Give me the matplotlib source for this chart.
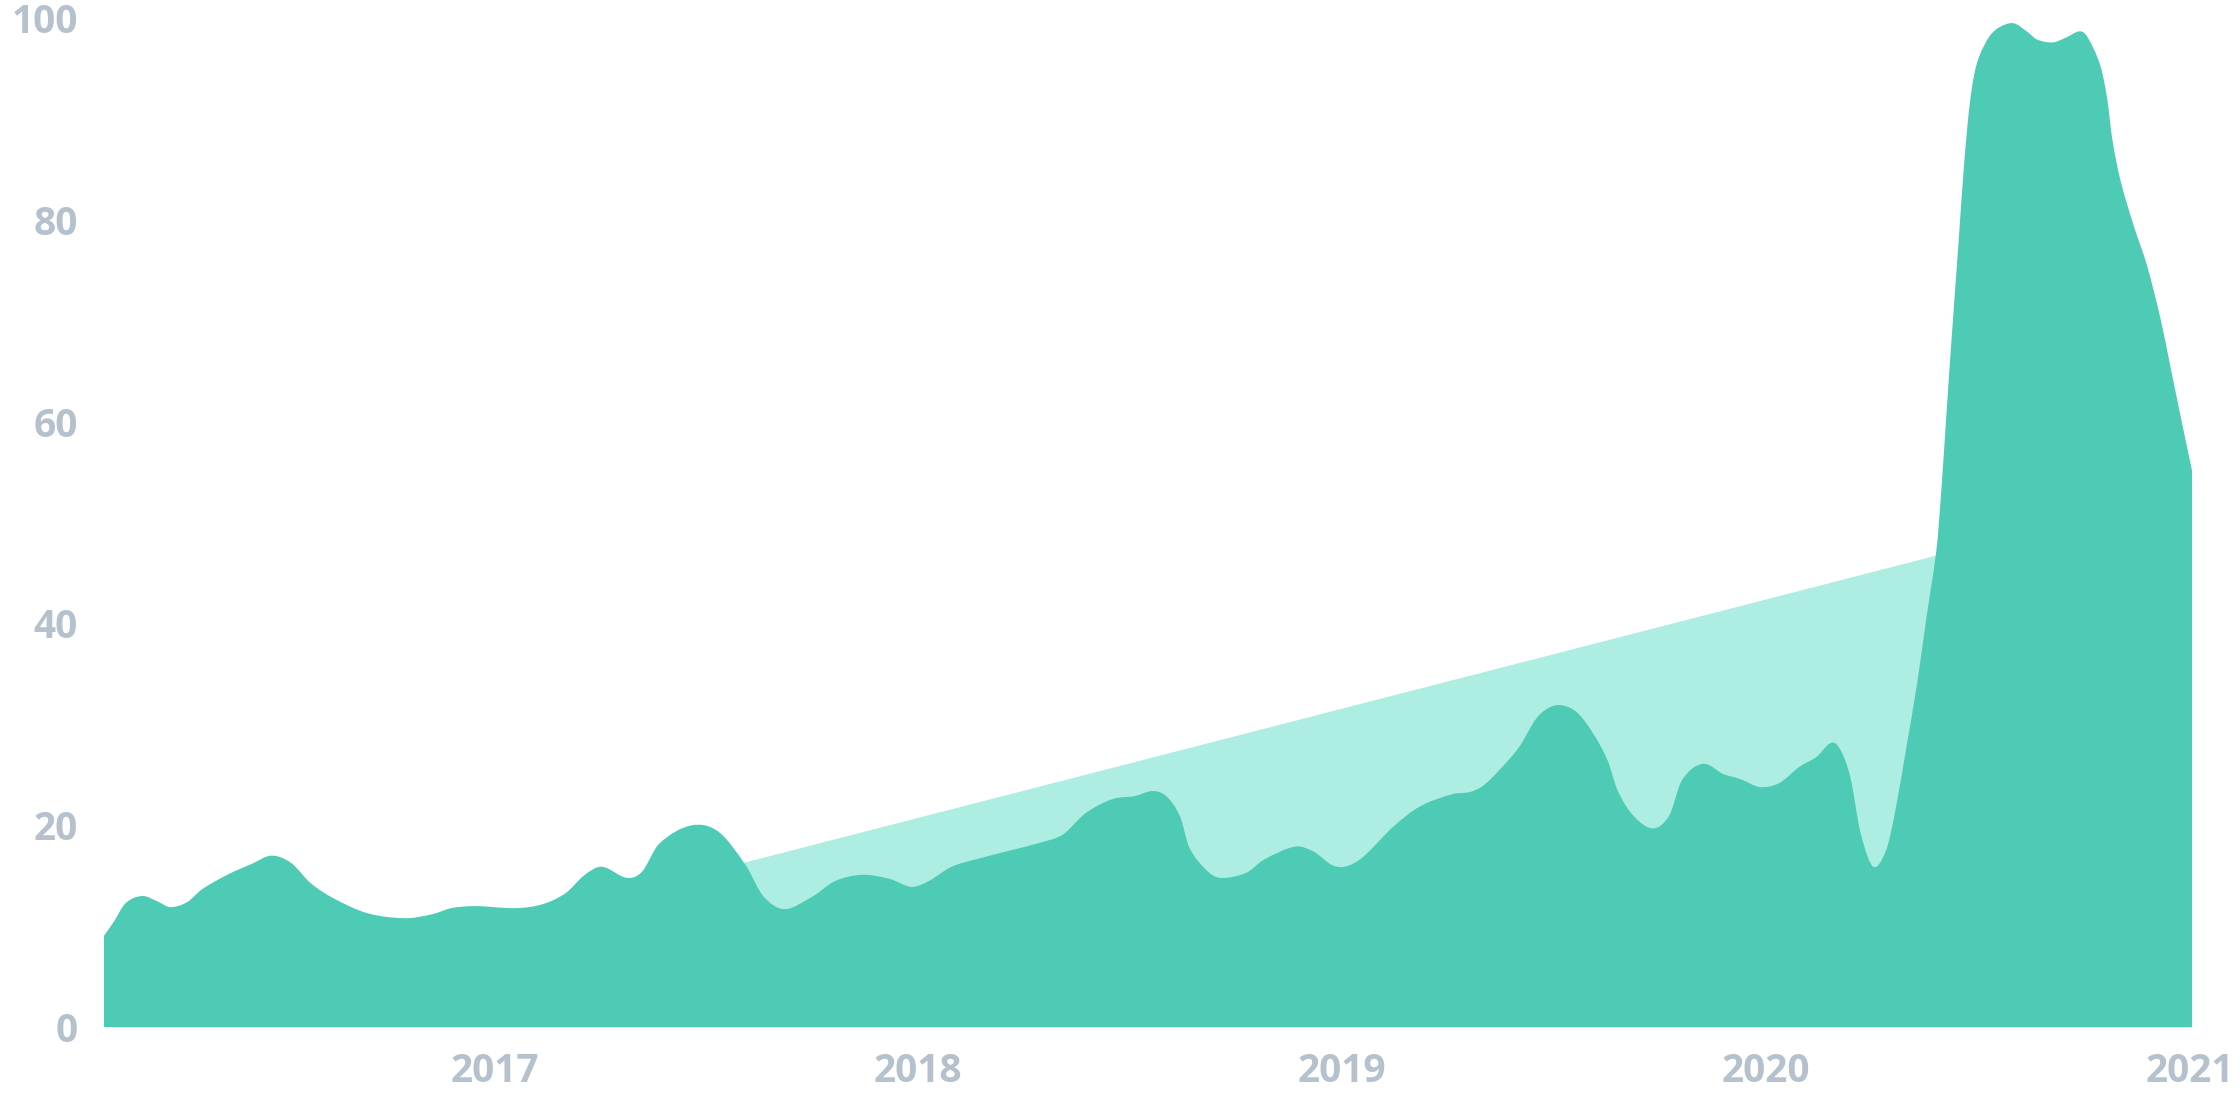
import numpy as np
import matplotlib
matplotlib.use("Agg")
import matplotlib.pyplot as plt
from matplotlib.path import Path
from matplotlib.patches import PathPatch

# ---- data (x in fractional years, y values) ----
dates = [
    2016.079, 2016.104, 2016.131, 2016.169, 2016.203, 2016.235, 2016.276, 2016.312,
    2016.375, 2016.429, 2016.474, 2016.519, 2016.565, 2016.619, 2016.700, 2016.790,
    2016.854, 2016.899, 2016.953, 2017.052, 2017.115, 2017.169, 2017.214, 2017.253,
    2017.312, 2017.349, 2017.390, 2017.465, 2017.527, 2017.591, 2017.633, 2017.684,
    2017.753, 2017.805, 2017.868, 2017.932, 2017.984, 2018.026, 2018.079, 2018.142,
    2018.216, 2018.289, 2018.342, 2018.395, 2018.458, 2018.511, 2018.553, 2018.584,
    2018.616, 2018.637, 2018.678, 2018.711, 2018.774, 2018.816, 2018.890, 2018.932,
    2018.974, 2019.006, 2019.048, 2019.122, 2019.185, 2019.261, 2019.301, 2019.332,
    2019.372, 2019.419, 2019.459, 2019.490, 2019.518, 2019.553, 2019.591, 2019.624,
    2019.648, 2019.685, 2019.733, 2019.773, 2019.803, 2019.851, 2019.898, 2019.938,
    2019.985, 2020.032, 2020.079, 2020.120, 2020.155, 2020.174, 2020.197, 2020.221,
    2020.252, 2020.285, 2020.308, 2020.334, 2020.358, 2020.381, 2020.403, 2020.410,
    2020.422, 2020.433, 2020.445, 2020.457, 2020.469, 2020.481, 2020.492, 2020.504,
    2020.528, 2020.551, 2020.583, 2020.614, 2020.638, 2020.677, 2020.709, 2020.740,
    2020.756, 2020.787, 2020.803, 2020.815, 2020.834, 2020.866, 2020.897, 2020.929,
    2020.952, 2020.976, 2021.004,
]
values = [
    8.9, 10.4, 12.2, 12.9, 12.4, 11.8, 12.3, 13.6,
    15.1, 16.1, 16.9, 16.2, 14.2, 12.7, 11.2, 10.7,
    11.1, 11.7, 11.9, 11.7, 12.1, 13.2, 15.0, 15.8,
    14.7, 15.3, 18.1, 19.9, 19.3, 16.0, 12.9, 11.6,
    12.9, 14.4, 15.0, 14.6, 13.8, 14.4, 15.8, 16.6,
    17.4, 18.2, 19.0, 21.1, 22.5, 22.8, 23.3, 22.8,
    20.8, 17.8, 15.5, 14.7, 15.2, 16.5, 17.8, 17.3,
    16.0, 15.8, 16.7, 19.8, 21.8, 23.0, 23.2, 23.8,
    25.4, 27.7, 30.5, 31.6, 31.8, 31.1, 29.0, 26.4,
    23.4, 20.9, 19.6, 20.9, 24.4, 26.0, 25.0, 24.5,
    23.7, 24.1, 25.7, 26.7, 28.1, 27.4, 24.7, 19.2,
    15.8, 17.5, 21.7, 28.0, 34.0, 40.8, 47.0, 50.2,
    57.3, 64.3, 71.4, 78.4, 85.5, 91.0, 94.2, 96.1,
    98.1, 99.0, 99.4, 98.6, 97.8, 97.5, 98.0, 98.6,
    98.1, 95.2, 91.9, 87.9, 83.9, 79.3, 75.4, 70.1,
    65.4, 60.5, 54.9,
]
trend_dates = [2016.079, 2021.004]
trend_values = [0.0, 53.3]

year_ticks = [2017, 2018, 2019, 2020, 2021]
year_labels = ["2017", "2018", "2019", "2020", "2021"]
y_ticks = [0, 20, 40, 60, 80, 100]

MAIN = "#4ECBB5"
LIGHT = "#AEEDE1"
LABEL = "#B5C1CC"


def smooth_area_path(xs, ys):
    """Closed area path using cubic Bezier segments (Hermite tangents)."""
    xs = np.asarray(xs, float)
    ys = np.asarray(ys, float)
    n = len(xs)
    m = np.zeros(n)
    for i in range(n):
        a = max(i - 1, 0)
        b = min(i + 1, n - 1)
        m[i] = (ys[b] - ys[a]) / (xs[b] - xs[a])
    verts = [(xs[0], 0.0), (xs[0], ys[0])]
    codes = [Path.MOVETO, Path.LINETO]
    for i in range(n - 1):
        dx = xs[i + 1] - xs[i]
        c1 = (xs[i] + dx / 3, ys[i] + m[i] * dx / 3)
        c2 = (xs[i + 1] - dx / 3, ys[i + 1] - m[i + 1] * dx / 3)
        verts += [c1, c2, (xs[i + 1], ys[i + 1])]
        codes += [Path.CURVE4] * 3
    verts += [(xs[-1], 0.0), (xs[0], 0.0)]
    codes += [Path.LINETO, Path.CLOSEPOLY]
    return Path(verts, codes)


fig = plt.figure(figsize=(11.2, 5.6), dpi=200)
ax = fig.add_axes([104 / 2240, (1120 - 1027) / 1120, (2191.7 - 104) / 2240, (1027 - 18) / 1120])

ax.fill_between(trend_dates, trend_values, 0, color=LIGHT, linewidth=0, zorder=1)
patch = PathPatch(smooth_area_path(dates, values), facecolor=MAIN, edgecolor=MAIN,
                  linewidth=0.6, zorder=2)
ax.add_patch(patch)

ax.set_xlim(dates[0], dates[-1])
ax.set_ylim(0, 100)
for s in ax.spines.values():
    s.set_visible(False)
ax.set_xticks(year_ticks)
ax.set_xticklabels(year_labels)
ax.set_yticks(y_ticks)
ax.set_yticklabels([str(v) for v in y_ticks])
for lab in ax.get_xticklabels() + ax.get_yticklabels():
    lab.set_fontfamily(["Open Sans", "DejaVu Sans"])
    lab.set_fontsize(14)
    lab.set_fontweight("bold")
    lab.set_color(LABEL)
ax.tick_params(axis="both", length=0)
ax.tick_params(axis="x", pad=9)
ax.tick_params(axis="y", pad=9.5)
ax.set_facecolor("white")
fig.patch.set_facecolor("white")

fig.savefig("out.png", dpi=200, facecolor="white")
